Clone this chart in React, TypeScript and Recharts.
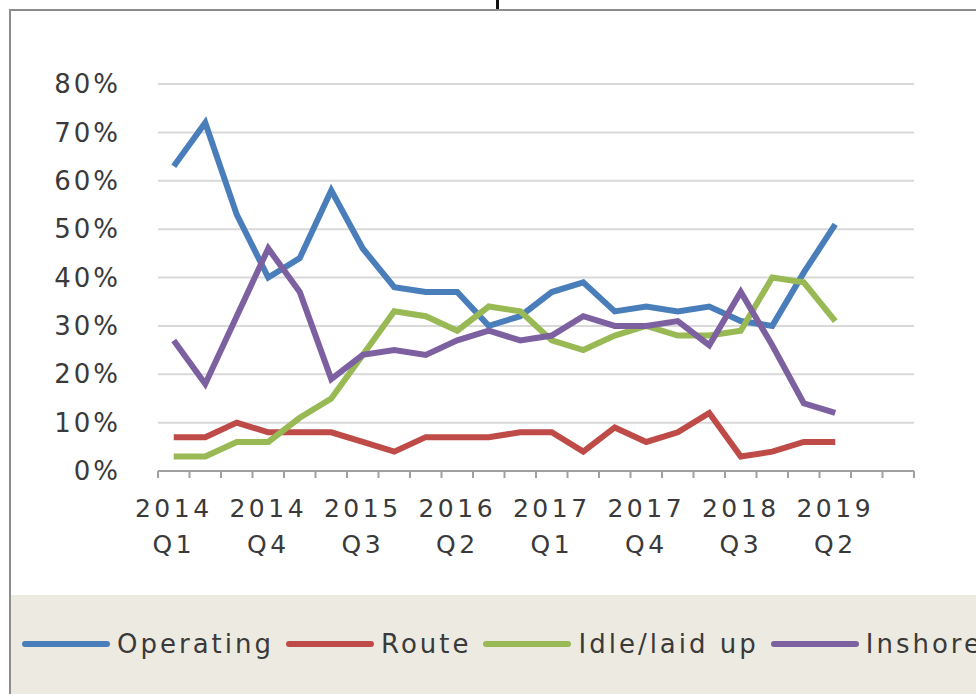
import { CartesianGrid, Line, LineChart, XAxis, YAxis } from "recharts";

const quarters = [
  "2014 Q1", "2014 Q2", "2014 Q3", "2014 Q4",
  "2015 Q1", "2015 Q2", "2015 Q3", "2015 Q4",
  "2016 Q1", "2016 Q2", "2016 Q3", "2016 Q4",
  "2017 Q1", "2017 Q2", "2017 Q3", "2017 Q4",
  "2018 Q1", "2018 Q2", "2018 Q3", "2018 Q4",
  "2019 Q1", "2019 Q2", "2019 Q3", "2019 Q4",
];

const operating = [63, 72, 53, 40, 44, 58, 46, 38, 37, 37, 30, 32, 37, 39, 33, 34, 33, 34, 31, 30, 41, 51];
const route = [7, 7, 10, 8, 8, 8, 6, 4, 7, 7, 7, 8, 8, 4, 9, 6, 8, 12, 3, 4, 6, 6];
const idle = [3, 3, 6, 6, 11, 15, 24, 33, 32, 29, 34, 33, 27, 25, 28, 30, 28, 28, 29, 40, 39, 31];
const inshore = [27, 18, 32, 46, 37, 19, 24, 25, 24, 27, 29, 27, 28, 32, 30, 30, 31, 26, 37, 26, 14, 12];

const yTicks = [0, 10, 20, 30, 40, 50, 60, 70, 80];

const series = [
  { key: "operating", name: "Operating", color: "#4a7ebb" },
  { key: "route", name: "Route", color: "#be4b48" },
  { key: "idle", name: "Idle/laid up", color: "#98b954" },
  { key: "inshore", name: "Inshore", color: "#7d60a0" },
];

const data = quarters.map((quarter, i) => ({
  quarter,
  operating: operating[i] ?? null,
  route: route[i] ?? null,
  idle: idle[i] ?? null,
  inshore: inshore[i] ?? null,
}));

const FONT = "'DejaVu Sans', sans-serif";
const TEXT = "#3a3a3a";
const PLOT_LEFT = 158;
const PLOT_RIGHT = 914;
const HALF = (PLOT_RIGHT - PLOT_LEFT) / quarters.length / 2;

function QuarterTick(props: any) {
  const { x, y, payload, index } = props;
  const [year, q] = String(payload.value).split(" ");
  return (
    <g>
      <line x1={x - HALF} x2={x - HALF} y1={y} y2={y + 7} stroke="#a0a0a0" strokeWidth={2} />
      {index === quarters.length - 1 && (
        <line x1={x + HALF} x2={x + HALF} y1={y} y2={y + 7} stroke="#a0a0a0" strokeWidth={2} />
      )}
      {index % 3 === 0 && (
        <text
          x={x}
          textAnchor="middle"
          fill={TEXT}
          fontFamily={FONT}
          fontSize={25}
          letterSpacing={3.5}
        >
          <tspan x={x} y={y + 46}>{year}</tspan>
          <tspan x={x} y={y + 82}>{q}</tspan>
        </text>
      )}
    </g>
  );
}

export default function App() {
  return (
    <div style={{ position: "absolute", left: 0, top: 0, width: 976, height: 694, overflow: "hidden", background: "#fff" }}>
      <div style={{ position: "absolute", left: 496, top: 0, width: 3, height: 9, background: "#111" }} />
      <div
        style={{
          position: "absolute",
          left: 9,
          top: 9,
          width: 1000,
          height: 700,
          border: "2px solid #8c8c8c",
          boxSizing: "border-box",
        }}
      />
      <div style={{ position: "absolute", left: 11, top: 595, width: 980, height: 110, background: "#edebe1" }} />
      <div style={{ position: "absolute", left: 0, top: 0 }}>
        <LineChart
          width={976}
          height={595}
          data={data}
          margin={{ top: 84, right: 976 - PLOT_RIGHT, bottom: 0, left: 0 }}
        >
          <CartesianGrid vertical={false} stroke="#d9d9d9" strokeWidth={2} />
          <XAxis
            dataKey="quarter"
            interval={0}
            height={124}
            padding={{ left: HALF, right: HALF }}
            tickLine={false}
            tickSize={0}
            tickMargin={0}
            axisLine={{ stroke: "#a0a0a0", strokeWidth: 2 }}
            tick={<QuarterTick />}
          />
          <YAxis
            width={PLOT_LEFT}
            domain={[0, 80]}
            ticks={yTicks}
            tickFormatter={(v) => `${v}%`}
            axisLine={false}
            tickLine={false}
            tickSize={0}
            tickMargin={37}
            tick={{ fill: TEXT, fontSize: 26, fontFamily: FONT, letterSpacing: 3 }}
          />
          {series.map((s) => (
            <Line
              key={s.key}
              dataKey={s.key}
              name={s.name}
              stroke={s.color}
              strokeWidth={6}
              dot={false}
              type="linear"
              isAnimationActive={false}
            />
          ))}
        </LineChart>
      </div>
      <div
        style={{
          position: "absolute",
          left: 22,
          top: 629,
          display: "flex",
          alignItems: "center",
          whiteSpace: "nowrap",
          fontFamily: FONT,
          fontSize: 26,
          letterSpacing: 3,
          color: TEXT,
        }}
      >
        {series.map((s) => (
          <div key={s.key} style={{ display: "flex", alignItems: "center", marginRight: 12 }}>
            <div style={{ width: 88, height: 6, borderRadius: 3, background: s.color, marginRight: 7 }} />
            <span>{s.name}</span>
          </div>
        ))}
      </div>
    </div>
  );
}
